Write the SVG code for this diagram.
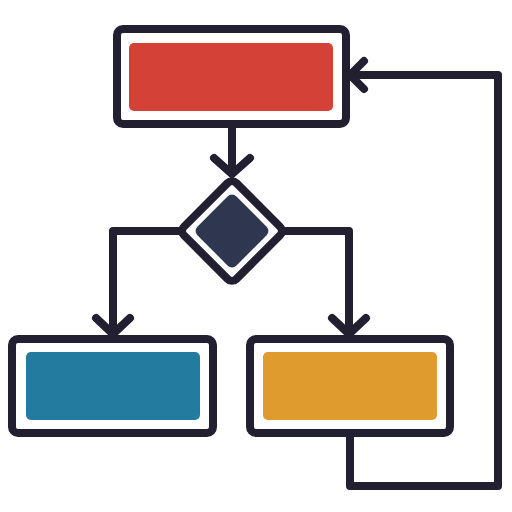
<svg xmlns="http://www.w3.org/2000/svg" width="512" height="512" viewBox="0 0 512 512">
<style>
.ln{fill:none;stroke:#211f30;stroke-width:8;stroke-linecap:round;stroke-linejoin:round}
.box{fill:#fff;stroke:#211f30;stroke-width:8;stroke-linejoin:round}
</style>
<rect width="512" height="512" fill="#fff"/>
<g id="connectors">
<path class="ln" d="M232 124V173M214 158L232 174L250 158"/>
<path class="ln" d="M182 231H113V333M96 318L113 334L130 318"/>
<path class="ln" d="M282 231H349V333M332 318L349 334L366 318"/>
<path class="ln" d="M350 433V486H498V75H350M364 61L350 75L364 89"/>
</g>
<g id="start">
<rect class="box" x="117" y="29" width="229" height="95" rx="6"/>
<rect x="129" y="43" width="204" height="68" rx="5" fill="#d44237"/>
</g>
<g id="decision">
<rect class="box" x="195" y="194" width="74" height="74" rx="6" transform="rotate(45 232 231)"/>
<rect x="204.5" y="203.5" width="55" height="55" rx="6" fill="#2f3650" transform="rotate(45 232 231)"/>
</g>
<g id="left">
<rect class="box" x="12" y="339" width="201" height="94" rx="6"/>
<rect x="26" y="352" width="174" height="68" rx="5" fill="#247ba0"/>
</g>
<g id="right">
<rect class="box" x="250" y="339" width="200" height="94" rx="6"/>
<rect x="263" y="352" width="174" height="68" rx="5" fill="#e09b2f"/>
</g>
</svg>
